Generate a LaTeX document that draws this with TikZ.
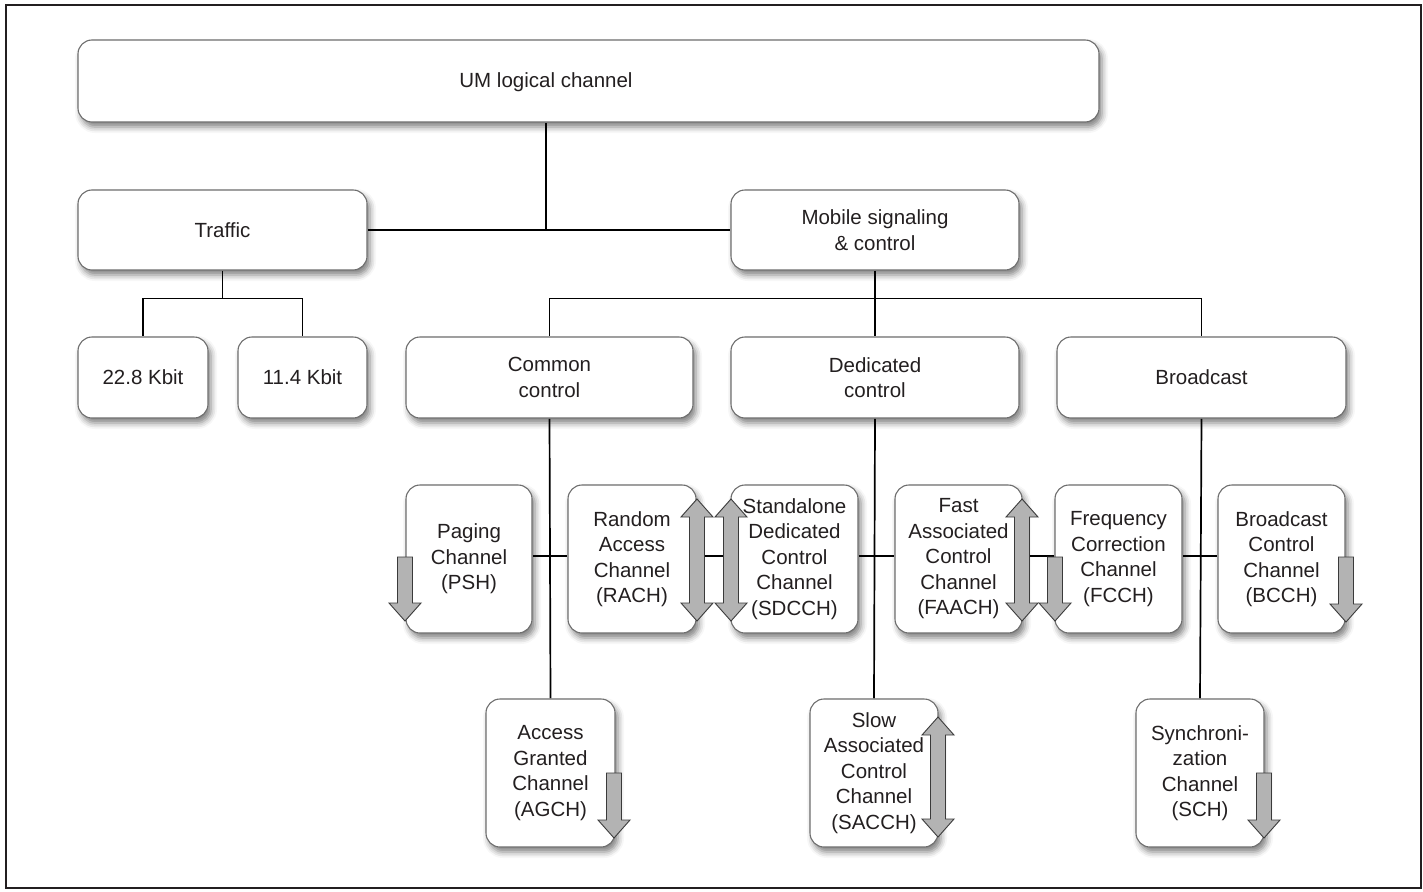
\documentclass[tikz,border=0pt]{standalone}
\usepackage{fontspec}
\setmainfont{Liberation Sans}
\usetikzlibrary{shadows.blur,backgrounds}
\definecolor{boxline}{HTML}{6E6E6E}
\definecolor{textc}{HTML}{231F20}
\definecolor{arrfill}{HTML}{B3B3B3}
\definecolor{arrline}{HTML}{3A3A3A}
\tikzset{
  lbl/.style={text=textc, font=\fontsize{20.5}{25.5}\selectfont, align=center, inner sep=0pt},
  box/.style={draw=boxline, line width=1.1pt, fill=white, rounded corners=14pt,
    lbl,
    blur shadow={shadow xshift=3pt, shadow yshift=-5pt, shadow blur radius=6pt, shadow opacity=50}},
  wide/.style={box, minimum width=288pt, minimum height=80pt},
  small/.style={box, minimum width=129pt, minimum height=81pt},
  chan/.style={box, minimum width=127pt, minimum height=148pt},
  conn/.style={line width=1.7pt, black},
  blockarrow/.style={fill=arrfill, draw=arrline, line width=0.9pt, line join=miter},
}
% down arrow: #1 centre x, #2 top of shaft, #3 tip
\newcommand\mydownarrow[3]{%
  \draw[blockarrow] ({#1-7.5},#2) -- ({#1+7.5},#2) -- ({#1+7.5},{#3-18}) -- ({#1+16},{#3-18})
    -- (#1,#3) -- ({#1-16},{#3-18}) -- ({#1-7.5},{#3-18}) -- cycle;}
% double arrow: #1 centre x, #2 top tip, #3 bottom tip
\newcommand\mydoublearrow[3]{%
  \draw[blockarrow] (#1,#2) -- ({#1+16},{#2+18}) -- ({#1+7.5},{#2+18}) -- ({#1+7.5},{#3-18})
    -- ({#1+16},{#3-18}) -- (#1,#3) -- ({#1-16},{#3-18}) -- ({#1-7.5},{#3-18})
    -- ({#1-7.5},{#2+18}) -- ({#1-16},{#2+18}) -- cycle;}
\begin{document}
\begin{tikzpicture}[x=1pt, y=-1pt]
\useasboundingbox (0,0) rectangle (1423,891);
\draw[line width=2pt, textc] (6,5) rectangle (1421,888);

% nodes
\node[box, minimum width=1021pt, minimum height=82pt,
      label={[lbl, xshift=-42.5pt, yshift=-1pt]center:UM logical channel}] (um) at (588.5,81) {};
\node[wide, minimum width=289pt] (traffic) at (222.5,230) {Traffic};
\node[wide] (mobile) at (875,230) {Mobile signaling\\\& control};
\node[small, minimum width=130pt] (k228) at (143,377.5) {22.8 Kbit};
\node[small] (k114) at (302.5,377.5) {11.4 Kbit};
\node[wide, minimum height=81pt, minimum width=287pt] (common) at (549.5,377.5) {Common\\control};
\node[wide, minimum height=81pt] (dedicated) at (875,377.5) {Dedicated\\control};
\node[wide, minimum height=81pt, minimum width=289pt] (broadcast) at (1201.5,377.5) {Broadcast};

\node[chan, minimum width=126pt] (paging) at (469,559) {Paging\\Channel\\(PSH)};
\node[chan, minimum width=128pt] (rach) at (632,559) {Random\\Access\\Channel\\(RACH)};
\node[chan] (sdcch) at (794.5,559) {Standalone\\Dedicated\\Control\\Channel\\(SDCCH)};
\node[chan] (faach) at (958.5,559) {Fast\\Associated\\Control\\Channel\\(FAACH)};
\node[chan] (fcch) at (1118.5,559) {Frequency\\Correction\\Channel\\(FCCH)};
\node[chan] (bcch) at (1281.5,559) {Broadcast\\Control\\Channel\\(BCCH)};
\node[chan, minimum width=129pt] (agch) at (550.5,773) {Access\\Granted\\Channel\\(AGCH)};
\node[chan, minimum width=128pt] (sacch) at (874,773) {Slow\\Associated\\Control\\Channel\\(SACCH)};
\node[chan, minimum width=128pt] (sch) at (1200,773) {Synchroni-\\zation\\Channel\\(SCH)};

% connectors (behind the boxes)
\coordinate (j1) at (546,230);
\begin{pgfonlayer}{background}
\draw[conn] (um.south -| j1) -- (j1);
\draw[conn] (traffic.east) -- (mobile.west);
\draw[conn] (traffic.south) -- ++(0,28) -| (k228.north);
\draw[conn] (traffic.south) -- ++(0,28) -| (k114.north);
\draw[conn] (mobile.south) -- ++(0,28) -| (common.north);
\draw[conn] (mobile.south) -- ++(0,28) -| (broadcast.north);
\draw[conn] (mobile.south) -- (dedicated.north);
\draw[conn] (common.south) -- (agch.north);
\draw[conn] (dedicated.south) -- (sacch.north);
\draw[conn] (broadcast.south) -- (sch.north);
\draw[conn] ([yshift=3pt]paging.east) -- ([yshift=3pt]rach.west);
\draw[conn] ([yshift=3pt]rach.east) -- ([yshift=3pt]sdcch.west);
\draw[conn] ([yshift=3pt]sdcch.east) -- ([yshift=3pt]faach.west);
\draw[conn] ([yshift=3pt]faach.east) -- ([yshift=3pt]fcch.west);
\draw[conn] ([yshift=3pt]fcch.east) -- ([yshift=3pt]bcch.west);
\end{pgfonlayer}

% block arrows
\mydownarrow{405}{557}{621}
\mydoublearrow{697}{499}{621}
\mydoublearrow{731}{499}{621}
\mydoublearrow{1022}{499}{621}
\mydownarrow{1055}{557}{621}
\mydownarrow{1346}{557}{622}
\mydownarrow{614}{773}{838}
\mydoublearrow{938}{717}{837}
\mydownarrow{1264}{773}{838}
\end{tikzpicture}
\end{document}
